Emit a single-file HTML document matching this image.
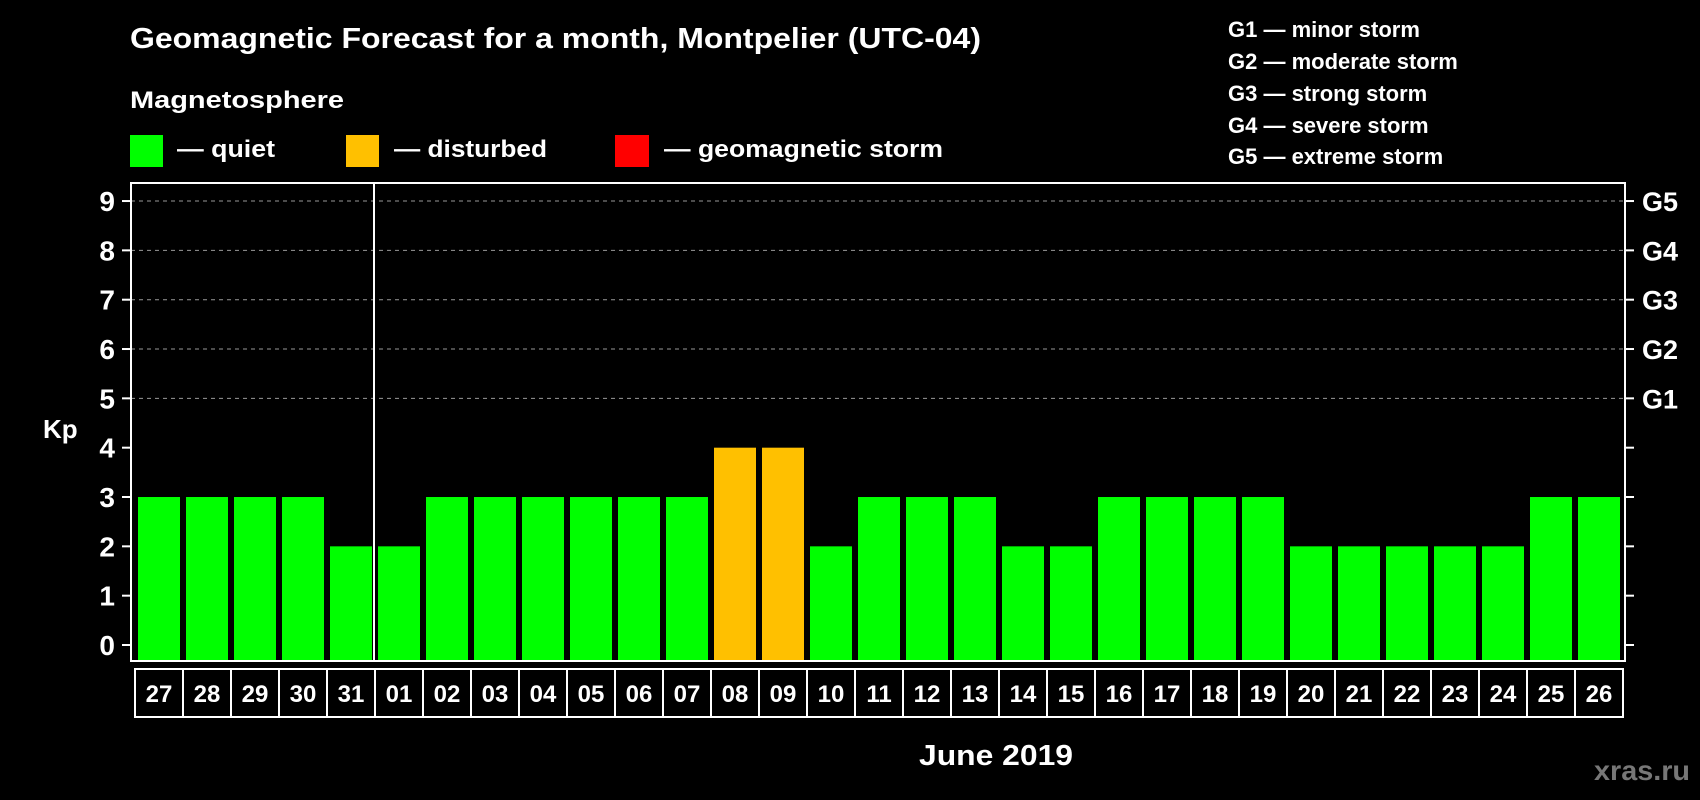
<!DOCTYPE html>
<html><head><meta charset="utf-8"><style>
html,body{margin:0;padding:0;background:#000;}
svg{display:block;font-family:"Liberation Sans",sans-serif;font-weight:bold;}
</style></head><body>
<svg id="chart" width="1700" height="800" viewBox="0 0 1700 800">
<rect x="0" y="0" width="1700" height="800" fill="#000"/>
<text x="130" y="48" font-size="29" fill="#fff" textLength="851" lengthAdjust="spacingAndGlyphs">Geomagnetic Forecast for a month, Montpelier (UTC-04)</text>
<text x="130" y="108" font-size="24" fill="#fff" textLength="214" lengthAdjust="spacingAndGlyphs">Magnetosphere</text>
<g>
<rect x="130" y="135" width="33" height="32" fill="#00ff00"/>
<text x="177" y="157" font-size="24" fill="#fff" textLength="98" lengthAdjust="spacingAndGlyphs">— quiet</text></g>
<g>
<rect x="346" y="135" width="33" height="32" fill="#ffc000"/>
<text x="394" y="157" font-size="24" fill="#fff" textLength="153" lengthAdjust="spacingAndGlyphs">— disturbed</text></g>
<g>
<rect x="615" y="135" width="34" height="32" fill="#ff0000"/>
<text x="664" y="157" font-size="24" fill="#fff" textLength="279" lengthAdjust="spacingAndGlyphs">— geomagnetic storm</text></g>
<g font-size="22" fill="#fff">
<text x="1228" y="37">G1 — minor storm</text>
<text x="1228" y="69">G2 — moderate storm</text>
<text x="1228" y="101">G3 — strong storm</text>
<text x="1228" y="133">G4 — severe storm</text>
<text x="1228" y="164">G5 — extreme storm</text>
</g>
<text x="43" y="438" font-size="26" fill="#fff">Kp</text>
<text x="996" y="765" font-size="29" fill="#fff" text-anchor="middle" textLength="154" lengthAdjust="spacingAndGlyphs">June 2019</text>
<text x="1690" y="780" font-size="28" fill="#777" text-anchor="end" textLength="96" lengthAdjust="spacingAndGlyphs">xras.ru</text>
<g id="plot"></g>
</svg>
<script>
const days = ["27","28","29","30","31","01","02","03","04","05","06","07","08","09","10","11","12","13","14","15","16","17","18","19","20","21","22","23","24","25","26"];
const kp = [3,3,3,3,2,2,3,3,3,3,3,3,4,4,2,3,3,3,2,2,3,3,3,3,2,2,2,2,2,3,3];
const yTicks = [0,1,2,3,4,5,6,7,8,9];
const gLevels = [5,6,7,8,9];
const gLabels = ["G1","G2","G3","G4","G5"];
const monthBreakIndex = 5;

const NS = "http://www.w3.org/2000/svg";
const plot = document.getElementById("plot");
const L = 131, R = 1625, T = 183, B = 661;
const slot = 48, x0 = 135;
function xs(i){ return x0 + i*slot; }
function ys(v){ return 645 - v*49.33; }
function mk(tag, attrs){ const e = document.createElementNS(NS, tag); for (const k in attrs) e.setAttribute(k, attrs[k]); plot.appendChild(e); return e; }
function color(v){ return v >= 5 ? "#ff0000" : (v >= 4 ? "#ffc000" : "#00ff00"); }

gLevels.forEach((v, i) => {
  const g = mk("line", {x1: L, x2: R, y1: ys(v), y2: ys(v), stroke: "#999", "stroke-width": 1, "stroke-dasharray": "4,4"});
  
  
  const t = mk("text", {x: 1642, y: ys(v) + 10, "font-size": 27, fill: "#fff"});
  t.textContent = gLabels[i];
  
  
});

yTicks.forEach(v => {
  const t = mk("line", {x1: 122, x2: L, y1: ys(v), y2: ys(v), stroke: "#fff", "stroke-width": 2});
  
  
  const t2 = mk("line", {x1: R, x2: 1634, y1: ys(v), y2: ys(v), stroke: "#fff", "stroke-width": 2});
  
  
  const lb = mk("text", {x: 115, y: ys(v) + 10, "font-size": 28, fill: "#fff", "text-anchor": "end"});
  lb.textContent = v;
  
  
});

kp.forEach((v, i) => {
  const b = mk("rect", {x: xs(i) + 3, y: ys(v), width: 42, height: B - ys(v), fill: color(v)});
  
  
});

const frame = mk("rect", {x: L, y: T, width: R - L, height: B - T, fill: "none", stroke: "#fff", "stroke-width": 2});


const sep = mk("line", {x1: xs(monthBreakIndex) - 1, x2: xs(monthBreakIndex) - 1, y1: T, y2: B, stroke: "#fff", "stroke-width": 2});



days.forEach((d, i) => {
  const c = mk("rect", {x: xs(i), y: 669, width: slot, height: 48, fill: "none", stroke: "#fff", "stroke-width": 2});
  
  
  const t = mk("text", {x: xs(i) + slot/2, y: 702, "font-size": 24, fill: "#fff", "text-anchor": "middle"});
  t.textContent = d;
  
  
});
</script>
</body></html>
